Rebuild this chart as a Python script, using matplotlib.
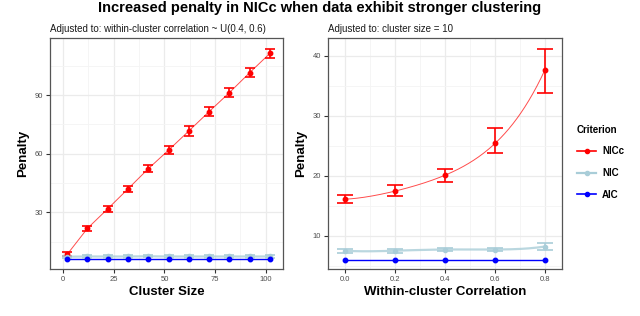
import numpy as np
import matplotlib
matplotlib.use("Agg")
import matplotlib.pyplot as plt
from matplotlib.lines import Line2D
from matplotlib.ticker import MultipleLocator

# ---------------- data ----------------
cluster_size = [2, 12, 22, 32, 42, 52, 62, 72, 82, 92, 102]
nicc_left = [8.5, 21.8, 31.8, 42.0, 52.3, 61.8, 71.6, 81.5, 91.2, 101.4, 111.3]
nicc_left_err = [1.1, 1.3, 1.5, 1.6, 1.8, 2.0, 2.4, 2.3, 2.3, 2.4, 2.5]
nic_left = [7.3, 7.4, 7.4, 7.4, 7.5, 7.4, 7.4, 7.4, 7.4, 7.4, 7.4]
nic_left_err = [0.6, 0.6, 0.6, 0.6, 0.6, 0.6, 0.6, 0.6, 0.6, 0.6, 0.6]
aic_left = [6.0] * 11

correlation = [0.0, 0.2, 0.4, 0.6, 0.8]
nicc_right = [16.1, 17.45, 20.1, 25.4, 37.7]
nicc_right_lo = [15.5, 16.6, 18.9, 23.8, 33.9]
nicc_right_hi = [16.8, 18.4, 21.2, 28.05, 41.1]
nic_right = [7.5, 7.5, 7.7, 7.7, 8.2]
nic_right_err = [0.3, 0.3, 0.3, 0.3, 0.55]
aic_right = [6.0] * 5

title = "Increased penalty in NICc when data exhibit stronger clustering"
sub_left = "Adjusted to: within-cluster correlation ~ U(0.4, 0.6)"
sub_right = "Adjusted to: cluster size = 10"
criteria = ["NICc", "NIC", "AIC"]

# ---------------- style ----------------
RED = "#ff0000"
LBLUE = "#a9cdd8"
BLUE = "#0000ff"
W, H = 640, 316
fig = plt.figure(figsize=(6.4, 3.16), dpi=100)
plt.rcParams['font.family'] = ['Liberation Sans', 'DejaVu Sans']


def px_axes(x0, y0, x1, y1):
    return fig.add_axes([x0 / W, 1 - y1 / H, (x1 - x0) / W, (y1 - y0) / H])


def style(ax):
    ax.set_facecolor("white")
    for s in ax.spines.values():
        s.set_color("#555555")
        s.set_linewidth(0.9)
    ax.grid(True, which="major", color="#ebebeb", lw=0.9, zorder=0)
    ax.grid(True, which="minor", color="#f4f4f4", lw=0.6, zorder=0)
    ax.tick_params(which="major", length=3, width=0.8, color="#333333",
                   labelsize=5.5, labelcolor="#4d4d4d", pad=2)
    ax.tick_params(which="minor", length=0)
    ax.set_axisbelow(True)


# ---------------- left panel ----------------
ax1 = px_axes(50, 38, 283, 269)
style(ax1)
ax1.plot(cluster_size, nicc_left, color=RED, lw=0.7, alpha=0.7, zorder=3)
ax1.errorbar(cluster_size, nicc_left, yerr=nicc_left_err, fmt="none",
             ecolor=RED, elinewidth=1.2, capsize=3.8, capthick=1.2, zorder=4)
ax1.plot(cluster_size, nicc_left, "o", color=RED, ms=3.2, zorder=5)

ax1.plot(cluster_size, nic_left, color=LBLUE, lw=1.6, alpha=0.8, zorder=3)
ax1.errorbar(cluster_size, nic_left, yerr=nic_left_err, fmt="none",
             ecolor=LBLUE, elinewidth=1.2, capsize=3.8, capthick=1.2, zorder=4)
ax1.plot(cluster_size, nic_left, "o", color=LBLUE, ms=3.0, zorder=5)

ax1.plot(cluster_size, aic_left, color=BLUE, lw=1.0, zorder=3)
ax1.plot(cluster_size, aic_left, "o", color=BLUE, ms=3.2, zorder=5)

ax1.set_xlim(-6.5, 108.5)
ax1.set_ylim(1, 119.2)
ax1.xaxis.set_major_locator(MultipleLocator(25))
ax1.xaxis.set_minor_locator(MultipleLocator(12.5))
ax1.yaxis.set_major_locator(MultipleLocator(30))
ax1.yaxis.set_minor_locator(MultipleLocator(15))
ax1.set_yticks([30, 60, 90])
ax1.set_xlabel("Cluster Size", fontsize=9.5, fontweight="bold", labelpad=2)
ax1.set_ylabel("Penalty", fontsize=9.5, fontweight="bold", labelpad=4)
ax1.set_title(sub_left, fontsize=7.0, loc="left", pad=4, color="#1a1a1a")

# ---------------- right panel ----------------
ax2 = px_axes(328, 38, 562, 269)
style(ax2)
xs = np.linspace(min(correlation), max(correlation), 200)
ax2.plot(xs, np.polyval(np.polyfit(correlation, nicc_right, 4), xs),
         color=RED, lw=0.7, alpha=0.7, zorder=3)
yerr_lo = np.array(nicc_right) - np.array(nicc_right_lo)
yerr_hi = np.array(nicc_right_hi) - np.array(nicc_right)
ax2.errorbar(correlation, nicc_right, yerr=[yerr_lo, yerr_hi], fmt="none",
             ecolor=RED, elinewidth=1.2, capsize=5.8, capthick=1.2, zorder=4)
ax2.plot(correlation, nicc_right, "o", color=RED, ms=3.2, zorder=5)

ax2.plot(xs, np.polyval(np.polyfit(correlation, nic_right, 4), xs),
         color=LBLUE, lw=1.6, alpha=0.8, zorder=3)
ax2.errorbar(correlation, nic_right, yerr=nic_right_err, fmt="none",
             ecolor=LBLUE, elinewidth=1.2, capsize=5.8, capthick=1.2, zorder=4)
ax2.plot(correlation, nic_right, "o", color=LBLUE, ms=3.0, zorder=5)

ax2.plot(correlation, aic_right, color=BLUE, lw=1.0, zorder=3)
ax2.plot(correlation, aic_right, "o", color=BLUE, ms=3.2, zorder=5)

ax2.set_xlim(-0.068, 0.868)
ax2.set_ylim(4.45, 43)
ax2.xaxis.set_major_locator(MultipleLocator(0.2))
ax2.xaxis.set_minor_locator(MultipleLocator(0.1))
ax2.set_xticks(correlation)
ax2.set_xticklabels([f"{v:.1f}" for v in correlation])
ax2.yaxis.set_major_locator(MultipleLocator(10))
ax2.yaxis.set_minor_locator(MultipleLocator(5))
ax2.set_yticks([10, 20, 30, 40])
ax2.set_xlabel("Within-cluster Correlation", fontsize=9.5, fontweight="bold", labelpad=2)
ax2.set_ylabel("Penalty", fontsize=9.5, fontweight="bold", labelpad=4)
ax2.set_title(sub_right, fontsize=7.0, loc="left", pad=4, color="#1a1a1a")

# ---------------- legend ----------------
handles = [Line2D([], [], color=c, lw=lw, marker="o", ms=3)
           for c, lw in zip([RED, LBLUE, BLUE], [1.2, 1.6, 1.2])]
leg = fig.legend(handles, criteria, title="Criterion", frameon=False,
                 loc="upper left", bbox_to_anchor=(570 / W, 1 - 118 / H),
                 fontsize=7.0, title_fontproperties={"weight": "bold", "size": 7.0},
                 handlelength=2.0, handletextpad=0.6, labelspacing=1.2,
                 borderaxespad=0.3)
leg._legend_box.align = "left"
for t in leg.get_texts():
    t.set_fontweight("bold")

# ---------------- title ----------------
fig.text(320 / W, 1 - 8 / H, title, ha="center", va="center",
         fontsize=10.5, fontweight="bold")

fig.savefig("out.png", dpi=100, facecolor="white")
